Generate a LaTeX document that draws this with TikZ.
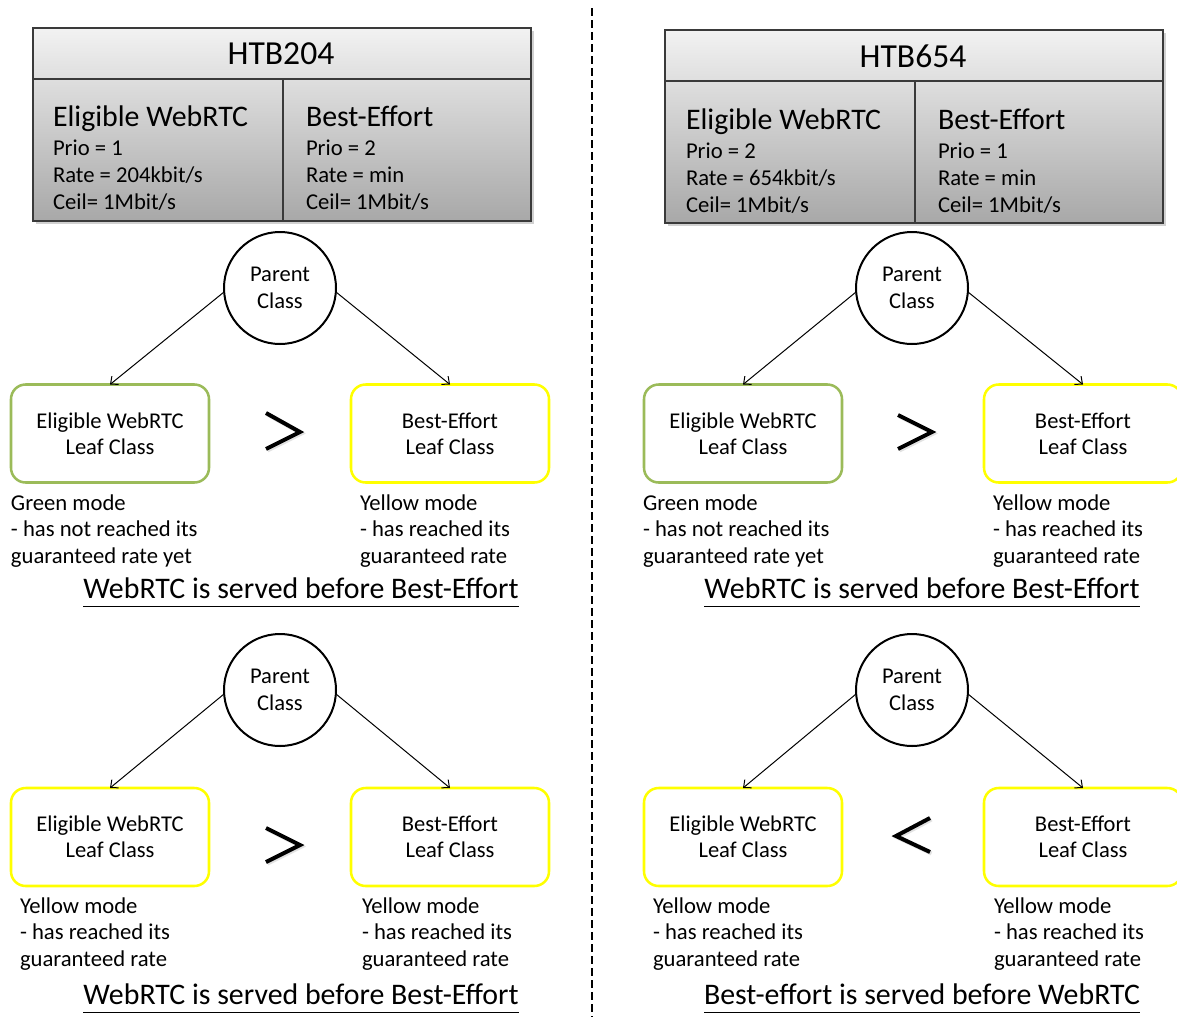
\documentclass[tikz,border=0pt]{standalone}
\usepackage{fontspec}
\setmainfont{Carlito}
\usetikzlibrary{arrows.meta}
\definecolor{leafgreen}{HTML}{9BBB59}
\definecolor{leafyellow}{HTML}{FFFF00}
\definecolor{tabtop}{HTML}{F2F2F2}
\definecolor{tabbot}{HTML}{A8A8A8}
\definecolor{tabline}{HTML}{3A3A3A}

\newcommand\tabcell[7]{%
  \node[hdtext]   (#1h) at (#2,#3)    {#4};
  \node[bodytext] (#1p) at (#2,#3+29) {#5};
  \node[bodytext] (#1r) at (#2,#3+56) {#6};
  \node[bodytext] (#1c) at (#2,#3+83) {#7};
}
\newcommand\modelines[6]{%
  \node[modetext] (#1a) at (#2,#3)      {#4};
  \node[modetext] (#1b) at (#2,#3+26.5) {#5};
  \node[modetext] (#1c) at (#2,#3+53)   {#6};
}

\tikzset{
  every node/.style={inner sep=0pt, outer sep=0pt},
  tabtitle/.style={font=\fontsize{25.2}{30}\selectfont},
  hdtext/.style={anchor=base west, font=\fontsize{22.4}{26}\selectfont},
  bodytext/.style={anchor=base west, font=\fontsize{17}{20}\selectfont},
  modetext/.style={anchor=base west, font=\fontsize{17}{20}\selectfont},
  concl/.style={anchor=base, font=\fontsize{22.4}{26}\selectfont},
  uline/.style={line width=1.1pt},
  parent/.style={circle, draw=black, line width=1.5pt, minimum size=84pt,
    align=center, font=\fontsize{16.9}{20.25}\selectfont},
  leaf/.style={rectangle, rounded corners=11pt, line width=1.9pt,
    minimum width=148.5pt, minimum height=73.5pt, align=center,
    font=\fontsize{16.9}{19.2}\selectfont},
  greenleaf/.style={leaf, draw=leafgreen},
  yellowleaf/.style={leaf, draw=leafyellow},
  link/.style={line width=0.75pt, -{Straight Barb[length=4.5pt,width=8pt]}},
  cmpsign/.style={line width=3pt, line join=miter, line cap=butt},
  cmpshadow/.style={cmpsign, draw=black!25, opacity=0.45},
  tabbox/.style={draw=tabline, line width=1.1pt},
}

\begin{document}
\begin{tikzpicture}[x=0.75pt, y=-0.75pt]
\clip (0,0) rectangle (1177,1017);
\useasboundingbox (0,0) rectangle (1177,1017);

% separator
\draw[line width=1.5pt, dash pattern=on 6pt off 3pt] (592,8) -- (592,1017);

% ---------- tables ----------
% left table
\fill[black!30, opacity=0.6] (36,31) rectangle (534,224);
\shade[top color=tabtop, bottom color=tabbot] (33,28) rectangle (531,221);
\draw[tabbox] (33,28) rectangle (531,221);
\draw[tabbox] (33,79) -- (531,79);
\draw[tabbox] (283,79) -- (283,221);
\node[tabtitle] (htbL) at (281,53.5) {HTB204};
\tabcell{lw}{53}{126}{Eligible WebRTC}{Prio = 1}{Rate = 204kbit/s}{Ceil= 1Mbit/s}
\tabcell{lb}{306}{126}{Best-Effort}{Prio = 2}{Rate = min}{Ceil= 1Mbit/s}

% right table
\fill[black!30, opacity=0.6] (668,33) rectangle (1166,226);
\shade[top color=tabtop, bottom color=tabbot] (665,30) rectangle (1163,223);
\draw[tabbox] (665,30) rectangle (1163,223);
\draw[tabbox] (665,81) -- (1163,81);
\draw[tabbox] (915,81) -- (915,223);
\node[tabtitle] (htbR) at (913,56) {HTB654};
\tabcell{rw}{686}{129.5}{Eligible WebRTC}{Prio = 2}{Rate = 654kbit/s}{Ceil= 1Mbit/s}
\tabcell{rb}{938}{129.5}{Best-Effort}{Prio = 1}{Rate = min}{Ceil= 1Mbit/s}

% ---------- top-left tree ----------
\node[parent] (p1) at (280,288) {Parent\\Class};
\node[greenleaf] (a1) at (110,433.5) {Eligible WebRTC\\Leaf Class};
\node[yellowleaf] (b1) at (450,433.5) {Best-Effort\\Leaf Class};
\draw[link] (p1.184) -- (a1.north);
\draw[link] (p1.-4) -- (b1.north);
\draw[cmpshadow] (267.5,414.5) -- (301.5,433.5) -- (267.5,450.5);
\draw[cmpsign] (266,413) -- (300,432) -- (266,449);
\modelines{m1}{11}{510}{Green mode}{- has not reached its}{guaranteed rate yet}
\modelines{n1}{360}{510}{Yellow mode}{- has reached its}{guaranteed rate}
\node[concl] (c1) at (301,598) {WebRTC is served before Best-Effort};
\draw[uline] ([yshift=-6.3pt]c1.base west) -- ([yshift=-6.3pt]c1.base east);

% ---------- top-right tree ----------
\node[parent] (p2) at (912,288) {Parent\\Class};
\node[greenleaf] (a2) at (743,433.5) {Eligible WebRTC\\Leaf Class};
\node[yellowleaf] (b2) at (1083,433.5) {Best-Effort\\Leaf Class};
\draw[link] (p2.184) -- (a2.north);
\draw[link] (p2.-4) -- (b2.north);
\draw[cmpshadow] (899.5,416.5) -- (933.5,433.5) -- (899.5,450.5);
\draw[cmpsign] (898,415) -- (932,432) -- (898,449);
\modelines{m2}{643}{510}{Green mode}{- has not reached its}{guaranteed rate yet}
\modelines{n2}{993}{510}{Yellow mode}{- has reached its}{guaranteed rate}
\node[concl] (c2) at (922,598) {WebRTC is served before Best-Effort};
\draw[uline] ([yshift=-6.3pt]c2.base west) -- ([yshift=-6.3pt]c2.base east);

% ---------- bottom-left tree ----------
\node[parent] (p3) at (280,690) {Parent\\Class};
\node[yellowleaf] (a3) at (110,837) {Eligible WebRTC\\Leaf Class};
\node[yellowleaf] (b3) at (450,837) {Best-Effort\\Leaf Class};
\draw[link] (p3.184) -- (a3.north);
\draw[link] (p3.-4) -- (b3.north);
\draw[cmpshadow] (267.5,829.5) -- (301.5,846.5) -- (267.5,863.5);
\draw[cmpsign] (266,828) -- (300,845) -- (266,862);
\modelines{m3}{20}{913}{Yellow mode}{- has reached its}{guaranteed rate}
\modelines{n3}{362}{913}{Yellow mode}{- has reached its}{guaranteed rate}
\node[concl] (c3) at (301,1004) {WebRTC is served before Best-Effort};
\draw[uline] ([yshift=-6.3pt]c3.base west) -- ([yshift=-6.3pt]c3.base east);

% ---------- bottom-right tree ----------
\node[parent] (p4) at (912,690) {Parent\\Class};
\node[yellowleaf] (a4) at (743,837) {Eligible WebRTC\\Leaf Class};
\node[yellowleaf] (b4) at (1083,837) {Best-Effort\\Leaf Class};
\draw[link] (p4.184) -- (a4.north);
\draw[link] (p4.-4) -- (b4.north);
\draw[cmpshadow] (931.5,819.5) -- (897.5,837.5) -- (931.5,853.5);
\draw[cmpsign] (930,818) -- (896,836) -- (930,852);
\modelines{m4}{653}{913}{Yellow mode}{- has reached its}{guaranteed rate}
\modelines{n4}{994}{913}{Yellow mode}{- has reached its}{guaranteed rate}
\node[concl] (c4) at (922,1004) {Best-effort is served before WebRTC};
\draw[uline] ([yshift=-6.3pt]c4.base west) -- ([yshift=-6.3pt]c4.base east);
\end{tikzpicture}
\end{document}
